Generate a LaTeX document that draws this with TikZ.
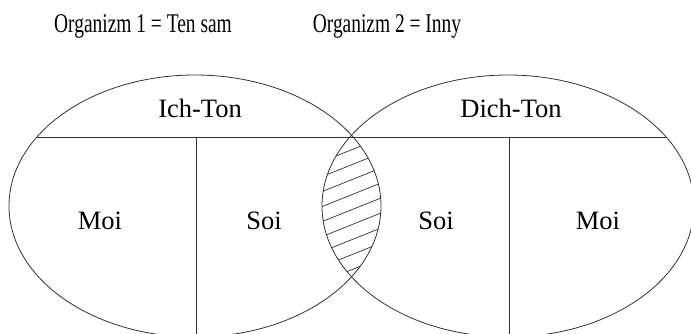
\documentclass[tikz,border=0pt]{standalone}
\usepackage{fontspec}
\setmainfont{Liberation Serif}
\newfontfamily\narrowfont[FakeStretch=0.72]{Liberation Serif}

\begin{document}
\begin{tikzpicture}[
    x=1pt, y=-1pt,
    every node/.style={inner sep=0pt},
    outline/.style={draw=black!80, line width=0.8pt},
    hatch_line/.style={draw=black!80, line width=0.7pt},
    title_text/.style={anchor=base, font=\narrowfont\fontsize{27}{32}\selectfont},
    region_text/.style={anchor=base, font=\fontsize{26.5}{32}\selectfont},
    ]

    \useasboundingbox (0,0) rectangle (691,333);
    \clip (0,0) rectangle (691,333);

    % --- Titles ---
    \node[title_text] (title_same) at (143,32) {Organizm 1 = Ten sam};
    \node[title_text] (title_other) at (387,32) {Organizm 2 = Inny};

    % --- Organisms ---
    \coordinate (left_center) at (195,206);
    \coordinate (right_center) at (508,206);
    \draw[outline] (left_center) ellipse [x radius=186pt, y radius=131pt];
    \draw[outline] (right_center) ellipse [x radius=186pt, y radius=131pt];

    % --- Dividing lines ---
    \draw[outline] (37,137) -- (666,137);
    \draw[outline] (196,137) -- (196,340);
    \draw[outline] (509,137) -- (509,340);

    % --- Overlap (hatched) ---
    \begin{scope}
        \clip (left_center) ellipse [x radius=186pt, y radius=131pt];
        \clip (right_center) ellipse [x radius=186pt, y radius=131pt];
        \foreach \k in {0,...,8}
            \draw[hatch_line] (300,170.4+15*\k) -- ++(110,-44);
    \end{scope}

    % --- Labels ---
    \node[region_text] (ich_ton) at (200,117) {Ich-Ton};
    \node[region_text] (dich_ton) at (511,117) {Dich-Ton};
    \node[region_text] (moi_left) at (100,229) {Moi};
    \node[region_text] (soi_left) at (264,229) {Soi};
    \node[region_text] (soi_right) at (436,229) {Soi};
    \node[region_text] (moi_right) at (598,229) {Moi};

\end{tikzpicture}
\end{document}
